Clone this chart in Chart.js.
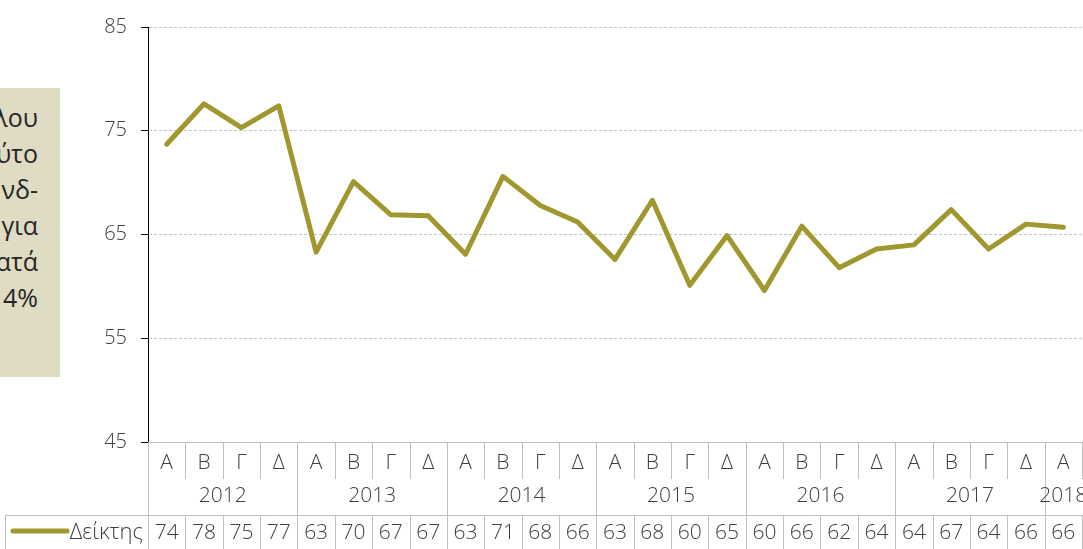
<!DOCTYPE html>
<html>
<head>
<meta charset="utf-8">
<script src="https://cdn.jsdelivr.net/npm/chart.js@4/dist/chart.umd.min.js"></script>
<style>
  html, body { margin: 0; padding: 0; background: #fff; }
  #wrap { position: relative; width: 1083px; height: 549px; overflow: hidden; }
  #note {
    position: absolute; left: 0; top: 88px; width: 60px; height: 289px;
    background: #e0dcc3; overflow: hidden; white-space: nowrap;
    font-family: "Open Sans", sans-serif; font-size: 25px; color: #262626;
    text-align: right; box-sizing: border-box; padding: 11px 22px 0 0; line-height: 36px;
  }
  #note div { float: right; clear: right; }
  canvas { position: absolute; left: 0; top: 0; }
</style>
</head>
<body>
<div id="wrap">
  <canvas id="graph" width="1083" height="549"></canvas>
  <div id="note"><div>λου</div><div>ύτο</div><div>νδ-</div><div>για</div><div>ατά</div><div>4%</div></div>
</div>
<script>
const quarters = ["Α", "Β", "Γ", "Δ", "Α", "Β", "Γ", "Δ", "Α", "Β", "Γ", "Δ", "Α", "Β", "Γ", "Δ",
                  "Α", "Β", "Γ", "Δ", "Α", "Β", "Γ", "Δ", "Α"];
const years = ["2012", "2013", "2014", "2015", "2016", "2017", "2018"];
const seriesName = "Δείκτης";
const values = [73.7, 77.6, 75.3, 77.4, 63.3, 70.1, 66.9, 66.8, 63.1, 70.6, 67.8, 66.2, 62.6, 68.3, 60.1, 64.9,
                59.6, 65.8, 61.8, 63.6, 64.0, 67.4, 63.6, 66.0, 65.7];
const yTicks = [45, 55, 65, 75, 85];

const lineColor = "#a0982f";
const textColor = "#404040";
const tableLine = "#bfbfbf";
const font = "Open Sans";
const fontSize = 20;

// draws the data table under the plot (quarters, years, values, legend)
const tablePlugin = {
    id: "table",
    afterDraw(chart) {
        const ctx = chart.ctx;
        const area = chart.chartArea;
        const xs = chart.scales.x;
        const w = (xs.getPixelForValue(1) - xs.getPixelForValue(0));
        const top = area.bottom;
        const qBottom = top + 37, yBottom = top + 73, end = chart.height;
        ctx.save();
        ctx.strokeStyle = tableLine;
        ctx.lineWidth = 1;
        ctx.beginPath();
        ctx.moveTo(area.left, top + 0.5); ctx.lineTo(chart.width, top + 0.5);
        ctx.moveTo(5, yBottom + 0.5); ctx.lineTo(chart.width, yBottom + 0.5);
        ctx.moveTo(5.5, yBottom); ctx.lineTo(5.5, end);
        for (let i = 0; i <= quarters.length; i++) {
            const x = Math.round(area.left + i * w) + 0.5;
            ctx.moveTo(x, top);
            ctx.lineTo(x, i % 4 == 0 ? yBottom : qBottom);
            ctx.moveTo(x, yBottom);
            ctx.lineTo(x, end);
        }
        ctx.stroke();

        ctx.fillStyle = textColor;
        ctx.textAlign = "center";
        ctx.textBaseline = "middle";
        ctx.font = "300 21px '" + font + "'";
        quarters.forEach((q, i) => {
            const x = xs.getPixelForValue(i);
            ctx.fillText(q, x, top + 21);
            ctx.fillText(String(Math.round(values[i])), x, yBottom + 18);
        });
        years.forEach((y, j) => {
            const n = Math.min(4, quarters.length - j * 4);
            const x = area.left + (j * 4 + n / 2) * w;
            ctx.fillText(y, x, top + 54);
        });

        // legend cell
        ctx.strokeStyle = lineColor;
        ctx.lineWidth = 5;
        ctx.lineCap = "round";
        ctx.beginPath();
        ctx.moveTo(13, yBottom + 16); ctx.lineTo(67, yBottom + 16);
        ctx.stroke();
        ctx.textAlign = "right";
        ctx.font = "300 22px '" + font + "'";
        ctx.fillText(seriesName, 143, yBottom + 18);
        ctx.restore();
    }
};

new Chart("graph", {
    type: "line",
    data: {
        labels: quarters,
        datasets: [{
            label: seriesName,
            data: values,
            borderColor: lineColor,
            borderWidth: 5,
            pointRadius: 0,
            borderCapStyle: "round",
            borderJoinStyle: "round",
            tension: 0
        }]
    },
    options: {
        responsive: false,
        animation: false,
        layout: {padding: {left: 0, top: 27, right: 1, bottom: 107}},
        plugins: {legend: {display: false}, tooltip: {enabled: false}},
        scales: {
            x: {
                display: false,
                offset: true
            },
            y: {
                min: 45,
                max: 85,
                afterFit: s => { s.width = 148; },
                afterBuildTicks: s => { s.ticks = yTicks.map(v => ({value: v})); },
                ticks: {color: textColor, font: {family: font, size: fontSize, weight: 300}, padding: 14},
                border: {color: "#000", width: 1, dash: [3, 2]},
                grid: {
                    color: "#c4c4c4",
                    tickColor: "#000",
                    tickLength: 7,
                    tickBorderDash: []
                }
            }
        }
    },
    plugins: [tablePlugin]
});
</script>
</body>
</html>
